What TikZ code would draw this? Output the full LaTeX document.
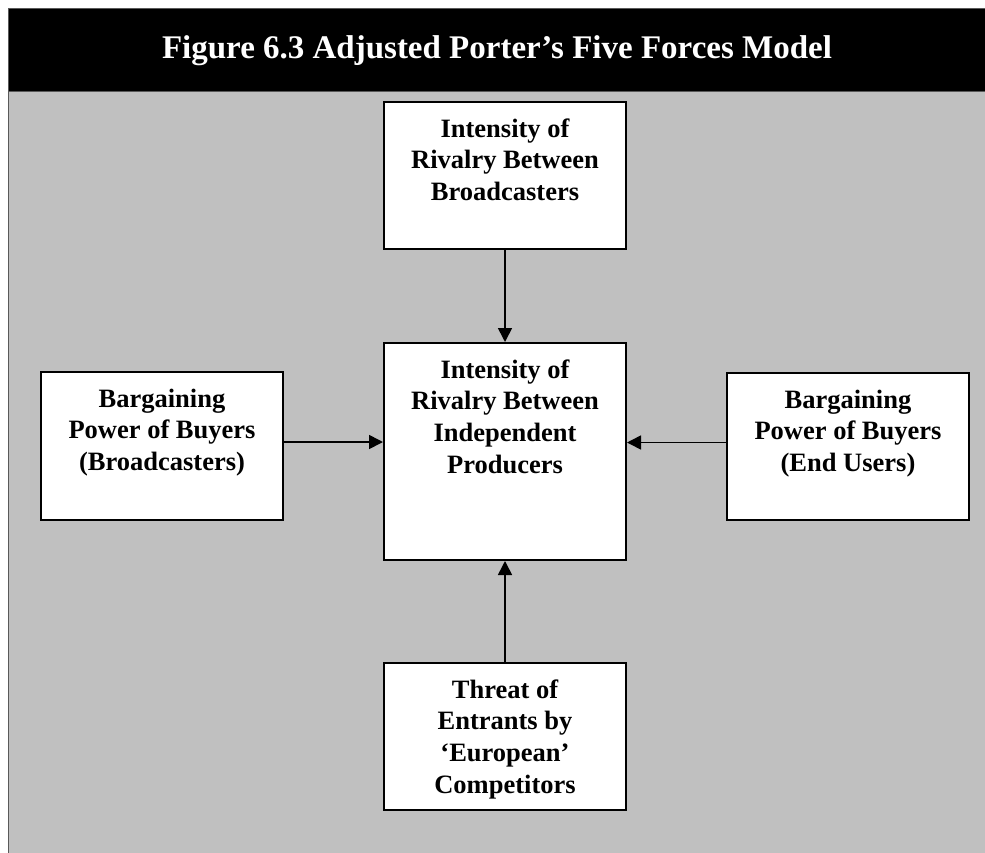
\documentclass[tikz,border=0pt]{standalone}
\usepackage{fontspec}
\setmainfont{Liberation Serif}
\usetikzlibrary{positioning, arrows.meta}
\definecolor{panelgrey}{RGB}{192,192,192}
\newcommand{\forcetext}[2]{\parbox[c][#1][t]{242pt}{\centering\rule{0pt}{35pt}#2}}

\begin{document}
\begin{tikzpicture}[
        x=1pt, y=-1pt,
        every node/.style={font=\fontsize{26.5}{31.7}\selectfont\bfseries},
        forcebox/.style={draw=black, fill=white, line width=2pt, inner sep=0pt},
        arrow/.style={-{Triangle[length=14pt, width=14pt]}, line width=1.6pt, draw=black}
    ]
    \useasboundingbox (0,0) rectangle (985,852);

    % Frame and title bar
    \fill[panelgrey] (8,91) rectangle (1000,870);
    \fill[black] (8,8) rectangle (1000,91);
    \draw[black!65, line width=1pt] (8,870) -- (8,8) -- (1000,8);
    \draw[black!65, line width=1pt] (8,91) -- (1000,91);
    \node[text=white, anchor=base, font=\fontsize{33}{40}\selectfont\bfseries] (title) at (497,58) {Figure 6.3 Adjusted Porter’s Five Forces Model};

    % 1. Centre: rivalry between producers
    \node[forcebox] (rivalry) at (505,451.5) {\forcetext{217pt}{Intensity of\\ Rivalry Between\\ Independent\\ Producers}};

    % 2. Rivalry between broadcasters
    \node[forcebox] (broadcasters) [above=92pt of rivalry] {\forcetext{147pt}{Intensity of\\ Rivalry Between\\ Broadcasters}};

    % 3. Buyers (broadcasters)
    \node[forcebox] (buyersB) [left=99pt of rivalry, yshift=5.5pt] {\forcetext{148pt}{Bargaining\\ Power of Buyers\\ (Broadcasters)}};

    % 4. Buyers (end users)
    \node[forcebox] (buyersE) [right=99pt of rivalry, yshift=5pt] {\forcetext{147pt}{Bargaining\\ Power of Buyers\\ (End Users)}};

    % 5. New entrants
    \node[forcebox] (entrants) [below=101pt of rivalry] {\forcetext{147pt}{Threat of\\ Entrants by\\ ‘European’\\ Competitors}};

    % Arrows into the centre
    \coordinate (leftend) at ([yshift=4pt]buyersB.east);
    \coordinate (rightend) at ([yshift=4pt]buyersE.west);
    \draw[arrow] (broadcasters) -- (rivalry);
    \draw[arrow] (entrants) -- (rivalry);
    \draw[arrow] (leftend) -- (leftend -| rivalry.west);
    \draw[arrow] (rightend) -- (rightend -| rivalry.east);

\end{tikzpicture}
\end{document}
